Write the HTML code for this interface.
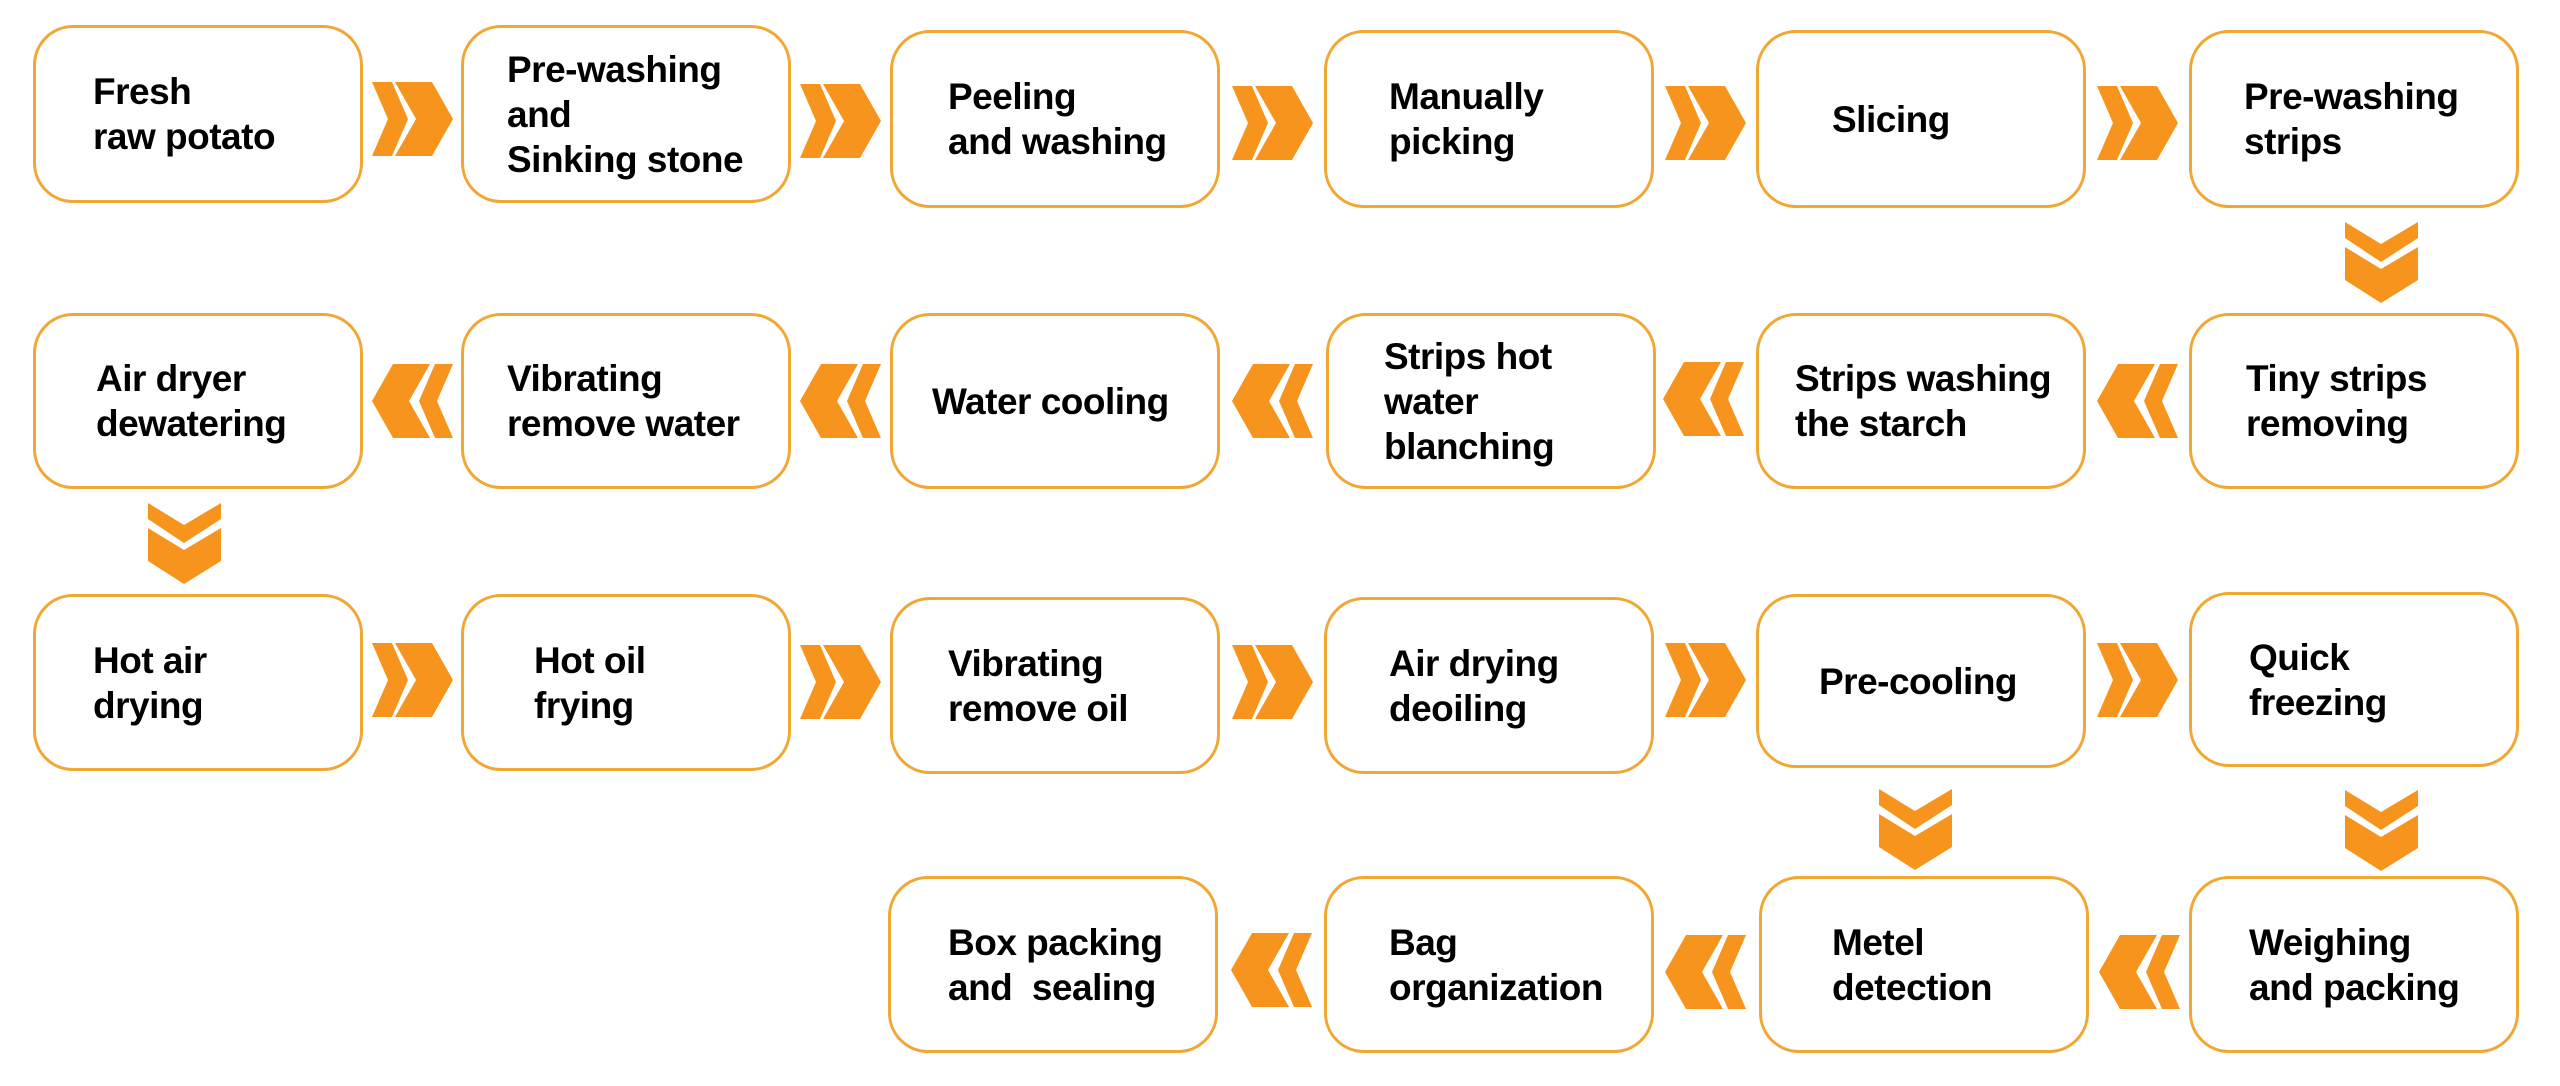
<!DOCTYPE html>
<html><head><meta charset="utf-8"><style>
body{margin:0;width:2560px;height:1086px;background:#fff;position:relative;overflow:hidden;font-family:"Liberation Sans",sans-serif}
.b{position:absolute;width:330px;box-sizing:border-box;border:3px solid #F1A733;border-radius:40px;display:flex;align-items:center;font-weight:bold;font-size:37px;line-height:45px;color:#000;letter-spacing:-0.5px}
.a{position:absolute;width:81px;height:74px}
.d{position:absolute;width:73px;height:81px}
</style></head><body>
<svg width="0" height="0" style="position:absolute"><defs>
<g id="R"><polygon fill="#F7941D" points="0,0 20,0 36,37 20,74 0,74 16,37"/><polygon fill="#F7941D" points="23,0 60,0 81,37 60,74 23,74 44,37"/></g>
<g id="L"><polygon fill="#F7941D" points="21,0 58,0 37,37 58,74 21,74 0,37"/><polygon fill="#F7941D" points="63,0 81,0 65,37 81,74 63,74 47,37"/></g>
<g id="D"><polygon fill="#F7941D" points="0,0 36,22 73,0 73,16 36,40 0,16"/><polygon fill="#F7941D" points="0,25 36,47 73,25 73,58 36,81 0,58"/></g>
</defs></svg>

<!-- row1 -->
<div class="b" style="left:33px;top:25px;height:178px;padding-left:57px">Fresh<br>raw potato</div>
<div class="b" style="left:461px;top:25px;height:178px;padding-left:43px">Pre-washing<br>and<br>Sinking stone</div>
<div class="b" style="left:890px;top:30px;height:178px;padding-left:55px">Peeling<br>and washing</div>
<div class="b" style="left:1324px;top:30px;height:178px;padding-left:62px">Manually<br>picking</div>
<div class="b" style="left:1756px;top:30px;height:178px;padding-left:73px">Slicing</div>
<div class="b" style="left:2189px;top:30px;height:178px;padding-left:52px">Pre-washing<br>strips</div>
<svg class="a" style="left:372px;top:82px"><use href="#R"/></svg>
<svg class="a" style="left:800px;top:84px"><use href="#R"/></svg>
<svg class="a" style="left:1232px;top:86px"><use href="#R"/></svg>
<svg class="a" style="left:1665px;top:86px"><use href="#R"/></svg>
<svg class="a" style="left:2097px;top:86px"><use href="#R"/></svg>
<svg class="d" style="left:2345px;top:222px"><use href="#D"/></svg>

<!-- row2 -->
<div class="b" style="left:33px;top:313px;height:176px;padding-left:60px">Air dryer<br>dewatering</div>
<div class="b" style="left:461px;top:313px;height:176px;padding-left:43px">Vibrating<br>remove water</div>
<div class="b" style="left:890px;top:313px;height:176px;padding-left:39px">Water cooling</div>
<div class="b" style="left:1326px;top:313px;height:176px;padding-left:55px">Strips hot<br>water<br>blanching</div>
<div class="b" style="left:1756px;top:313px;height:176px;padding-left:36px">Strips washing<br>the starch</div>
<div class="b" style="left:2189px;top:313px;height:176px;padding-left:54px">Tiny strips<br>removing</div>
<svg class="a" style="left:372px;top:364px"><use href="#L"/></svg>
<svg class="a" style="left:800px;top:364px"><use href="#L"/></svg>
<svg class="a" style="left:1232px;top:364px"><use href="#L"/></svg>
<svg class="a" style="left:1663px;top:362px"><use href="#L"/></svg>
<svg class="a" style="left:2097px;top:364px"><use href="#L"/></svg>
<svg class="d" style="left:148px;top:503px"><use href="#D"/></svg>

<!-- row3 -->
<div class="b" style="left:33px;top:594px;height:177px;padding-left:57px">Hot air<br>drying</div>
<div class="b" style="left:461px;top:594px;height:177px;padding-left:70px">Hot oil<br>frying</div>
<div class="b" style="left:890px;top:597px;height:177px;padding-left:55px">Vibrating<br>remove oil</div>
<div class="b" style="left:1324px;top:597px;height:177px;padding-left:62px">Air drying<br>deoiling</div>
<div class="b" style="left:1756px;top:594px;height:174px;padding-left:60px">Pre-cooling</div>
<div class="b" style="left:2189px;top:592px;height:175px;padding-left:57px">Quick<br>freezing</div>
<svg class="a" style="left:372px;top:643px"><use href="#R"/></svg>
<svg class="a" style="left:800px;top:645px"><use href="#R"/></svg>
<svg class="a" style="left:1232px;top:645px"><use href="#R"/></svg>
<svg class="a" style="left:1665px;top:643px"><use href="#R"/></svg>
<svg class="a" style="left:2097px;top:643px"><use href="#R"/></svg>
<svg class="d" style="left:1879px;top:789px"><use href="#D"/></svg>
<svg class="d" style="left:2345px;top:790px"><use href="#D"/></svg>

<!-- row4 -->
<div class="b" style="left:888px;top:876px;height:177px;padding-left:57px">Box packing<br>and&nbsp; sealing</div>
<div class="b" style="left:1324px;top:876px;height:177px;padding-left:62px">Bag<br>organization</div>
<div class="b" style="left:1759px;top:876px;height:177px;padding-left:70px">Metel<br>detection</div>
<div class="b" style="left:2189px;top:876px;height:177px;padding-left:57px">Weighing<br>and packing</div>
<svg class="a" style="left:1231px;top:933px"><use href="#L"/></svg>
<svg class="a" style="left:1665px;top:935px"><use href="#L"/></svg>
<svg class="a" style="left:2099px;top:935px"><use href="#L"/></svg>
</body></html>
